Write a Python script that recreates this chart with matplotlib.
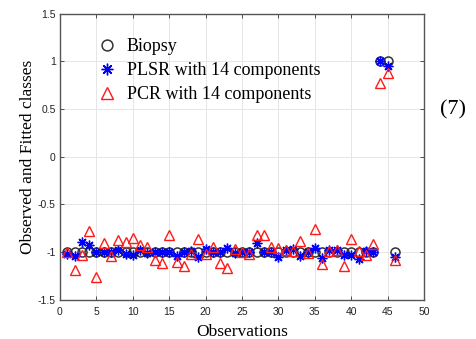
import numpy as np
import matplotlib
matplotlib.use("Agg")
import matplotlib.pyplot as plt

# observation index 1..46
obs = np.arange(1, 47)

biopsy = [-1] * 43 + [1, 1, -1]

plsr = [-1.02, -1.04, -0.90, -0.93, -1.00, -1.00, -1.00, -0.98, -1.02, -1.03,
        -0.98, -1.01, -1.00, -1.00, -1.00, -1.04, -1.00, -0.99, -1.05, -0.97,
        -1.00, -1.00, -0.96, -1.01, -1.00, -1.00, -0.91, -1.00, -1.00, -1.05,
        -0.98, -0.97, -1.04, -1.00, -0.96, -1.06, -0.98, -0.98, -1.03, -1.03,
        -1.07, -0.99, -1.00, 1.00, 0.95, -1.05]

pcr = [-1.00, -1.19, -1.03, -0.78, -1.26, -0.91, -1.04, -0.87, -0.90, -0.85,
       -0.93, -0.95, -1.08, -1.12, -0.82, -1.10, -1.15, -1.02, -0.86, -1.02,
       -0.95, -1.12, -1.17, -0.97, -1.00, -1.02, -0.82, -0.82, -0.95, -0.96,
       -0.98, -0.99, -0.88, -1.01, -0.76, -1.13, -0.99, -0.98, -1.15, -0.86,
       -0.99, -1.03, -0.92, 0.77, 0.88, -1.08]

fig = plt.figure(figsize=(4.76, 3.39), dpi=100)
ax = fig.add_axes([0.126, 0.116, 0.765, 0.844])

ax.plot(obs, biopsy, "o", mfc="none", mec="#333333", ms=6.5, mew=1.1, label="Biopsy")
ax.plot(obs, plsr, marker=(8, 2, 0), ls="none", color="blue", ms=7, mew=1.0,
        label="PLSR with 14 components")
ax.plot(obs, pcr, "^", mfc="none", mec="#ff1a1a", ms=7, mew=1.0,
        label="PCR with 14 components")

ax.set_xlim(0, 50)
ax.set_ylim(-1.5, 1.5)
ax.set_xticks(range(0, 51, 5))
ax.set_yticks([-1.5, -1, -0.5, 0, 0.5, 1, 1.5])
ax.set_yticklabels(["-1.5", "-1", "-0.5", "0", "0.5", "1", "1.5"])
ax.grid(True, color="#e6e6e6", linewidth=0.7)
ax.set_axisbelow(True)
ax.tick_params(direction="in", top=True, right=True, length=3, width=0.6,
               labelsize=7.5, colors="#333333", labelcolor="#222222", pad=3)
ax.tick_params(axis="x", pad=5)
for lbl in ax.get_xticklabels() + ax.get_yticklabels():
    lbl.set_family("Liberation Sans")
for s in ax.spines.values():
    s.set_color("#555555")
    s.set_linewidth(1.0)

ax.set_xlabel("Observations", family="Liberation Serif", fontsize=12.5, labelpad=5)
ax.set_ylabel("Observed and Fitted classes", family="Liberation Serif", fontsize=12.5, labelpad=1)

ax.legend(loc="upper left", bbox_to_anchor=(0.099, 0.915), frameon=False,
          prop={"family": "Liberation Serif", "size": 13},
          handletextpad=0.5, labelspacing=0.4, borderaxespad=0, borderpad=0,
          handlelength=1.2, markerscale=1.2)

fig.text(0.924, 0.676, "(7)", family="Liberation Serif", fontsize=16, va="center")

fig.savefig("out.png", dpi=100)
